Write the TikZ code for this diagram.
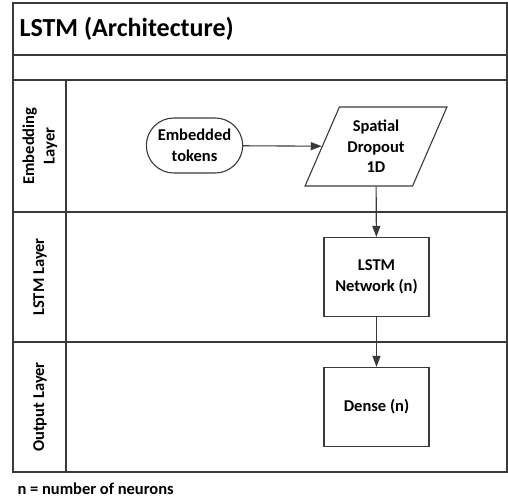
\documentclass[tikz,border=0pt]{standalone}
\usepackage{fontspec}
\setmainfont{Carlito}
\usetikzlibrary{shapes, arrows.meta, positioning}
\definecolor{linegray}{HTML}{3A3A3A}

\begin{document}
\begin{tikzpicture}[x=1bp, y=-1bp,
    txt/.style={font=\bfseries\fontsize{16.5bp}{20.5bp}\selectfont, align=center},
    frame/.style={draw=linegray, line width=1.4bp},
    box/.style={txt, draw=linegray, line width=1.1bp, fill=white, minimum width=105bp, minimum height=79bp},
    flow/.style={draw=linegray, line width=1.1bp, -{Triangle[length=11bp, width=8bp]}}]
    \useasboundingbox (0,0) rectangle (508,499);
    % swimlanes
    \draw[frame] (13,3) rectangle (507,472);
    \draw[frame] (13,55) -- (507,55);
    \draw[frame] (13,80) -- (507,80);
    \draw[frame] (13,212) -- (507,212);
    \draw[frame] (13,342) -- (507,342);
    \draw[frame] (66,80) -- (66,472);

    \node[txt, font=\bfseries\fontsize{26bp}{30bp}\selectfont, anchor=west] (title) at (16,29) {LSTM (Architecture)};
    \node[txt, rotate=90] (emblane) at (40,146) {Embedding\\Layer};
    \node[txt, rotate=90] (lstmlane) at (40,277) {LSTM Layer};
    \node[txt, rotate=90] (outlane) at (40,407) {Output Layer};

    \node[box, rounded rectangle, minimum width=103bp, minimum height=55bp] (tokens) at (194.5,145.5) {Embedded\\tokens};
    \node[box, trapezium, trapezium left angle=63, trapezium right angle=117, trapezium stretches=true, minimum width=142bp, minimum height=79bp, inner sep=1bp] (drop) at (376,146.5) {Spatial\\Dropout\\1D};
    \node[box] (lstm) at (376.5,277) {LSTM\\Network (n)};
    \node[box] (dense) at (376.5,407) {Dense (n)};
    \node[txt, anchor=west] (note) at (14,489) {n = number of neurons};

    \draw[flow] (tokens) -- (drop);
    \draw[flow] (drop) -- (lstm);
    \draw[flow] (lstm) -- (dense);
\end{tikzpicture}
\end{document}
